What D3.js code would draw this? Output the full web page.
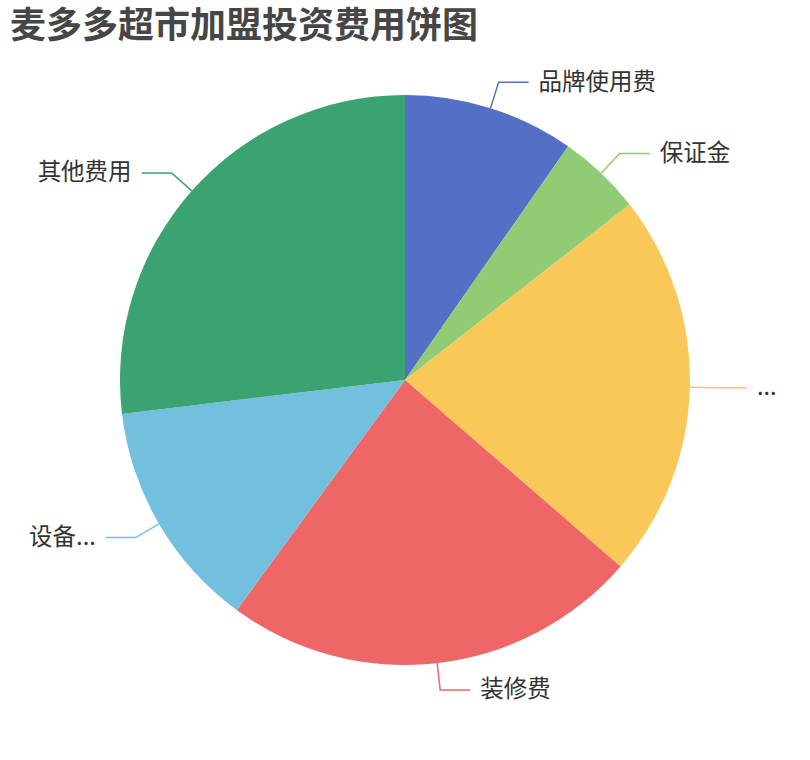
<!DOCTYPE html>
<html lang="zh">
<head>
<meta charset="UTF-8">
<title>麦多多超市加盟投资费用饼图</title>
<style>
  body { margin: 0; background: #fff; }
  .title { font-family: "Noto Sans CJK SC", sans-serif; font-size: 36px; font-weight: bold; fill: #464646; }
  .label { font-family: "Noto Sans CJK SC", sans-serif; font-size: 23.5px; fill: #333; }
</style>
</head>
<body>
<div id="chart"></div>
<script src="https://cdn.jsdelivr.net/npm/d3@7/dist/d3.min.js"></script>
<script>
// slice names as shown on the chart (two of them are truncated in the original)
var names = ["品牌使用费", "保证金", "...", "装修费", "设备...", "其他费用"];
// estimated share of each slice (percent)
var values = [9.7, 4.75, 21.9, 23.7, 13.05, 26.9];
var colors = ["#5470c6", "#91cc75", "#fac858", "#ee6666", "#73c0de", "#3ba272"];

var width = 810, height = 760;
var cx = 405, cy = 380, radius = 285;
var len1 = 27, len2 = 30;

var svg = d3.select("#chart").append("svg")
  .attr("width", width)
  .attr("height", height);

svg.append("text")
  .attr("class", "title")
  .attr("x", 10)
  .attr("y", 38)
  .text("麦多多超市加盟投资费用饼图");

var data = names.map(function(n, i) { return { name: n, value: values[i] }; });

var pie = d3.pie().sort(null).value(function(d) { return d.value; });
var arc = d3.arc().innerRadius(0).outerRadius(radius);
var color = d3.scaleOrdinal().domain(names).range(colors);

var g = svg.append("g").attr("transform", "translate(" + cx + "," + cy + ")");
var arcs = pie(data);

g.selectAll("path.slice")
  .data(arcs)
  .enter().append("path")
  .attr("class", "slice")
  .attr("d", arc)
  .attr("fill", function(d) { return color(d.data.name); });

// label lines: out from the edge, then a short horizontal run
function linePoints(d) {
  var a = (d.startAngle + d.endAngle) / 2;
  var p0 = [radius * Math.sin(a), -radius * Math.cos(a)];
  var p1 = [(radius + len1) * Math.sin(a), -(radius + len1) * Math.cos(a)];
  var dir = Math.sin(a) >= 0 ? 1 : -1;
  var p2 = [p1[0] + dir * len2, p1[1]];
  return [p0, p1, p2];
}

g.selectAll("polyline")
  .data(arcs)
  .enter().append("polyline")
  .attr("points", function(d) { return linePoints(d).join(" "); })
  .attr("fill", "none")
  .attr("stroke-width", 1.5)
  .attr("stroke", function(d) { return color(d.data.name); });

g.selectAll("text.label")
  .data(arcs)
  .enter().append("text")
  .attr("class", "label")
  .attr("x", function(d) {
    var p = linePoints(d)[2];
    return p[0] + (p[0] >= 0 ? 10 : -10);
  })
  .attr("y", function(d) { return linePoints(d)[2][1] - 1; })
  .attr("dy", "0.35em")
  .attr("text-anchor", function(d) { return linePoints(d)[2][0] >= 0 ? "start" : "end"; })
  .text(function(d) { return d.data.name; });
</script>
</body>
</html>
